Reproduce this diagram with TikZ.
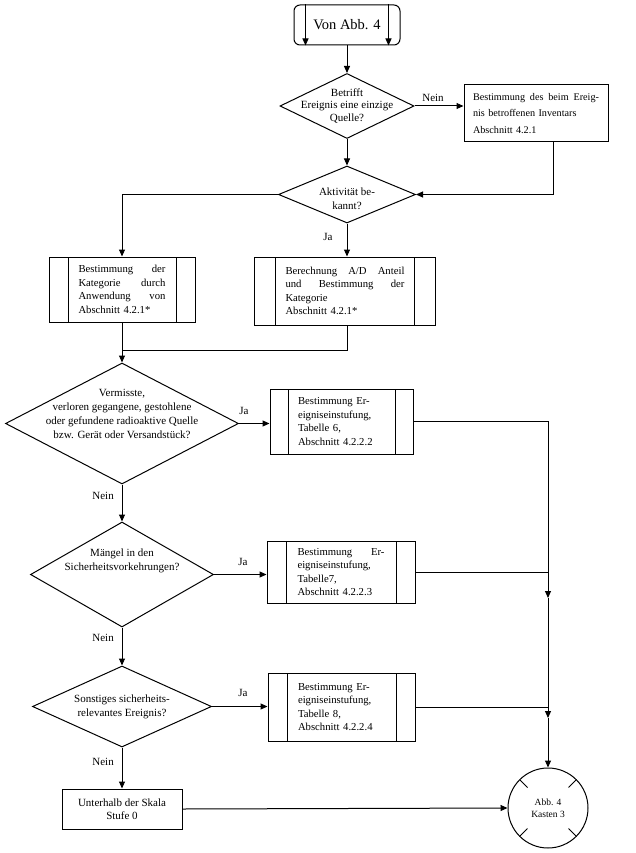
\documentclass[tikz,border=0pt]{standalone}
\usepackage{fontspec}
\setmainfont{Liberation Serif}
\usetikzlibrary{arrows.meta,shapes.geometric,calc}
\newcommand\dtxt[2]{\makebox[0pt]{\raisebox{#1}[0pt][0pt]{\begin{tabular}[c]{@{}c@{}}#2\end{tabular}}}}
\newcommand\jl[2]{\leavevmode\hbox to #1{#2}}
\begin{document}
\begin{tikzpicture}[x=1pt,y=-1pt,
  conn/.style={draw, line width=1pt},
  arr/.style={conn, -{Triangle[length=7pt,width=6pt]}},
  dia/.style={draw, line width=1pt, diamond, inner sep=0pt, font=\fontsize{11}{14}\selectfont},
  box/.style={draw, line width=1pt, rectangle, inner sep=0pt, align=left, font=\fontsize{10.7}{13.5}\selectfont},
  pbox/.style={box, path picture={
     \draw[line width=1pt] ([xshift=#1]path picture bounding box.north west) -- ([xshift=#1]path picture bounding box.south west);
     \draw[line width=1pt] ([xshift=-#1]path picture bounding box.north east) -- ([xshift=-#1]path picture bounding box.south east);}},
  pbox/.default=19pt,
  lbl/.style={font=\fontsize{11}{13}\selectfont, inner sep=0pt}
]
\useasboundingbox (0,0) rectangle (636,853);

% start
\node[draw, line width=1pt, rounded corners=6pt, minimum width=106pt, minimum height=40pt, inner sep=0pt, font=\fontsize{14.5}{16}\selectfont] (start) at (347,25) {Von Abb. 4};
\draw[arr] ([xshift=12pt]start.north west) -- ([xshift=12pt]start.south west);
\draw[arr] ([xshift=-12pt]start.north east) -- ([xshift=-12pt]start.south east);

% decision 1
\node[dia, minimum width=134pt, minimum height=65pt, font=\fontsize{11}{12.5}\selectfont] (d1) at (347,106) {\dtxt{-2.8pt}{Betrifft\\Ereignis eine einzige\\Quelle?}};
\draw[arr] (start.south) -- (d1.north);

\node[box, minimum width=144pt, minimum height=57pt, text width=126pt, font=\fontsize{10.2}{16.5}\selectfont] (b1) at (536,113.5) {\jl{126pt}{Bestimmung\hfill des\hfill beim\hfill Ereig-}\\nis betroffenen Inventars\\Abschnitt 4.2.1};
\draw[arr] (d1.east) -- (d1.east -| b1.west);
\node[lbl] (n1) at (433,98) {Nein};

% decision 2
\node[dia, minimum width=137pt, minimum height=57pt] (d2) at (347,194.5) {\dtxt{-7.8pt}{Aktivität be-\\kannt?}};
\draw[arr] (d1.south) -- (d2.north);
\draw[arr] ([xshift=17pt]b1.south) |- (d2.east);

\node[pbox, minimum width=146pt, minimum height=65pt, text width=87pt] (b2l) at (122,289.5) {\jl{87pt}{Bestimmung\hfill der}\\\jl{87pt}{Kategorie\hfill durch}\\\jl{87pt}{Anwendung\hfill von}\\Abschnitt 4.2.1*};
\node[pbox=21pt, minimum width=181pt, minimum height=68pt, text width=119pt] (b2r) at (345,291) {\jl{119pt}{Berechnung\hfill A/D\hfill Anteil}\\\jl{119pt}{und\hfill Bestimmung\hfill der}\\Kategorie\\Abschnitt 4.2.1*};
\draw[arr] (d2.west) -| (b2l.north);
\draw[arr] (d2.south) -- (d2.south |- b2r.north);
\node[lbl] (ja1) at (328,237) {Ja};

% decision 3
\node[dia, minimum width=233pt, minimum height=121pt] (d3) at (122,423.5) {\dtxt{6.2pt}{Vermisste,\\verloren gegangene, gestohlene\\oder gefundene radioaktive Quelle\\bzw. Gerät oder Versandstück?}};
\coordinate (mg) at (122,350);
\draw[conn] (b2r.south -| d2.south) |- (mg);
\draw[arr] (b2l.south) -- (d3.north);

\node[pbox=18pt, minimum width=143pt, minimum height=65pt, text width=87pt] (b3) at (341.5,421.5) {Bestimmung Er-\\eigniseinstufung,\\Tabelle 6,\\Abschnitt 4.2.2.2};
\draw[arr] (d3.east) -- (d3.east -| b3.west);
\node[lbl] (ja2) at (244,411) {Ja};
\node[lbl, anchor=east] (ne2) at (114,496) {Nein};

% decision 4
\node[dia, minimum width=183pt, minimum height=105pt] (d4) at (122,574.5) {\dtxt{11.2pt}{Mängel in den\\Sicherheitsvorkehrungen?}};
\draw[arr] (d3.south) -- (d4.north);
\node[pbox, minimum width=148pt, minimum height=62pt, text width=87pt] (b4) at (341,572) {\jl{87pt}{Bestimmung\hfill Er-}\\eigniseinstufung,\\Tabelle7,\\Abschnitt 4.2.2.3};
\draw[arr] (d4.east) -- (d4.east -| b4.west);
\node[lbl] (ja3) at (243,562) {Ja};
\node[lbl, anchor=east] (ne3) at (114,638) {Nein};

% decision 5
\node[dia, minimum width=179pt, minimum height=81pt] (d5) at (122,706.5) {\dtxt{-2.8pt}{Sonstiges sicherheits-\\relevantes Ereignis?}};
\draw[arr] (d4.south) -- (d5.north);
\node[pbox, minimum width=147pt, minimum height=68pt, text width=87pt] (b5) at (341.5,707) {Bestimmung Er-\\eigniseinstufung,\\Tabelle 8,\\Abschnitt 4.2.2.4};
\draw[arr] (d5.east) -- (d5.east -| b5.west);
\node[lbl] (ja4) at (243,693) {Ja};
\node[lbl, anchor=east] (ne4) at (114,762) {Nein};

% below scale
\node[box, align=center, minimum width=120pt, minimum height=40pt, font=\fontsize{11}{13.5}\selectfont] (b6) at (122,809) {Unterhalb der Skala\\Stufe 0};
\draw[arr] (d5.south) -- (b6.north);

% connector circle
\node[circle, draw, line width=1pt, minimum size=80pt, inner sep=0pt, align=center, font=\fontsize{9.5}{12}\selectfont] (c) at (548,808) {Abb. 4\\Kasten 3};
\foreach \a in {45,135,225,315} \draw[line width=1pt] ([shift={(\a:29pt)}]c.center) -- ([shift={(\a:40pt)}]c.center);
\draw[arr] (b6.east) -- (c.west);

\coordinate (m4) at (548,598);
\coordinate (m5) at (548,718);
\draw[arr] (b3.east) -| (m4);
\draw[conn] (b4.east) -- (b4.east -| c.north);
\draw[arr] (m4) -- (m5);
\draw[conn] (b5.east) -- (b5.east -| c.north);
\draw[arr] (m5) -- (c.north);
\end{tikzpicture}
\end{document}
